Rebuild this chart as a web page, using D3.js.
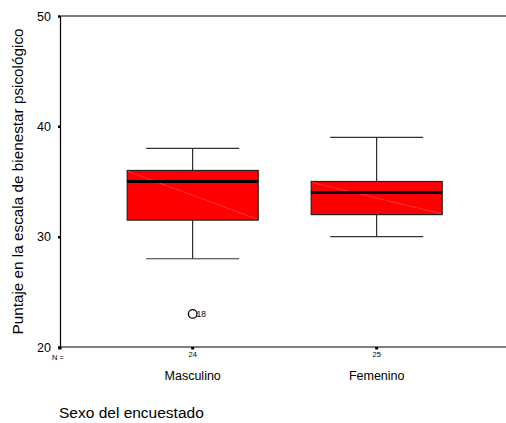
<!DOCTYPE html>
<html>
<head>
<meta charset="utf-8">
<script src="https://cdn.jsdelivr.net/npm/d3@7"></script>
<style>
  html, body { margin: 0; padding: 0; background: #fff; }
  svg { display: block; font-family: "Liberation Sans", Arial, sans-serif; }
</style>
</head>
<body>
<svg id="chart" width="506" height="423"></svg>
<script>
// Groups and their five-number summaries
const categories = ["Masculino", "Femenino"];
const counts = [24, 25];
const whiskerLow = [28, 30];
const q1 = [31.5, 32];
const median = [35, 34];
const q3 = [36, 35];
const whiskerHigh = [38, 39];
// Outliers: [group index, value, case label]
const outliers = [[0, 23, "18"]];
const yTicks = [20, 30, 40, 50];

(function () {
  const svg = d3.select("#chart");
  const mLeft = 60, mRight = 506, mTop = 16, mBottom = 347;

  const y = d3.scaleLinear().domain([20, 50]).range([mBottom, mTop]);
  const xi = d3.scalePoint().domain(categories).range([192.7, 376.7]);
  const boxW = 131, capW = 93;

  // Frame: top and bottom lines
  svg.append("line").attr("x1", mLeft).attr("x2", mRight).attr("y1", mTop).attr("y2", mTop)
    .attr("stroke", "#000").attr("stroke-width", 1.2);
  svg.append("line").attr("x1", mLeft).attr("x2", mRight).attr("y1", mBottom).attr("y2", mBottom)
    .attr("stroke", "#000").attr("stroke-width", 1.2);

  const yAxis = d3.axisLeft(y).tickValues(yTicks).tickSize(2).tickPadding(7).tickFormat(d3.format("d"));
  const gy = svg.append("g").attr("transform", `translate(${mLeft},0)`).call(yAxis);
  gy.select(".domain").attr("stroke", "#000").attr("stroke-width", 1.2);
  gy.selectAll(".tick line").attr("stroke", "#000").attr("stroke-width", 2.5);
  gy.selectAll(".tick text").attr("font-size", 12.5).attr("fill", "#000")
    .attr("font-family", "Liberation Sans, Arial, sans-serif");

  // Bottom tick nubs at N= and each group
  [mLeft, ...categories.map(c => xi(c))].forEach(px => {
    svg.append("rect").attr("x", px - 1.5).attr("y", mBottom).attr("width", 3).attr("height", 2.5).attr("fill", "#000");
  });

  // Y axis title
  svg.append("text")
    .attr("transform", `translate(23,181.5) rotate(-90)`)
    .attr("text-anchor", "middle").attr("font-size", 15.3).attr("fill", "#000")
    .text("Puntaje en la escala de bienestar psicológico");

  // N counts row
  svg.append("text").attr("x", 52).attr("y", 360).attr("font-size", 7.5).attr("fill", "#000").text("N =");
  categories.forEach((c, i) => {
    svg.append("text").attr("x", xi(c)).attr("y", 357).attr("text-anchor", "middle")
      .attr("font-size", 7.5).attr("fill", "#000").text(counts[i]);
  });

  // Category labels
  categories.forEach(c => {
    svg.append("text").attr("x", xi(c)).attr("y", 380).attr("text-anchor", "middle")
      .attr("font-size", 12.5).attr("fill", "#000").text(c);
  });

  // X axis title
  svg.append("text").attr("x", 59).attr("y", 418).attr("font-size", 15.5).attr("fill", "#000")
    .text("Sexo del encuestado");

  // Boxes
  categories.forEach((c, i) => {
    const cx = xi(c);
    const g = svg.append("g");
    // whiskers
    g.append("line").attr("x1", cx).attr("x2", cx).attr("y1", y(whiskerHigh[i])).attr("y2", y(q3[i]))
      .attr("stroke", "#000").attr("stroke-width", 1);
    g.append("line").attr("x1", cx).attr("x2", cx).attr("y1", y(q1[i])).attr("y2", y(whiskerLow[i]))
      .attr("stroke", "#000").attr("stroke-width", 1);
    [whiskerHigh[i], whiskerLow[i]].forEach(v => {
      g.append("line").attr("x1", cx - capW / 2).attr("x2", cx + capW / 2).attr("y1", y(v)).attr("y2", y(v))
        .attr("stroke", "#333").attr("stroke-width", 1.2);
    });
    // box
    g.append("rect").attr("x", cx - boxW / 2).attr("y", y(q3[i]))
      .attr("width", boxW).attr("height", y(q1[i]) - y(q3[i]))
      .attr("fill", "#ff0000").attr("stroke", "#222").attr("stroke-width", 1.2);
    // faint diagonal shading line across the fill
    g.append("line").attr("x1", cx - boxW / 2 + 1).attr("y1", y(q3[i]) + 1)
      .attr("x2", cx + boxW / 2 - 1).attr("y2", y(q1[i]) - 1)
      .attr("stroke", "#ff8080").attr("stroke-width", 0.6).attr("stroke-dasharray", "2,1");
    // median
    g.append("line").attr("x1", cx - boxW / 2).attr("x2", cx + boxW / 2)
      .attr("y1", y(median[i])).attr("y2", y(median[i]))
      .attr("stroke", "#000").attr("stroke-width", 3);
  });

  // Outliers
  outliers.forEach(([i, v, lab]) => {
    const cx = xi(categories[i]);
    svg.append("circle").attr("cx", cx).attr("cy", y(v)).attr("r", 4.3)
      .attr("fill", "none").attr("stroke", "#000").attr("stroke-width", 1.3);
    svg.append("text").attr("x", cx + 3.8).attr("y", y(v) + 3.2)
      .attr("font-size", 8.5).attr("fill", "#000").text(lab);
  });
})();
</script>
</body>
</html>
